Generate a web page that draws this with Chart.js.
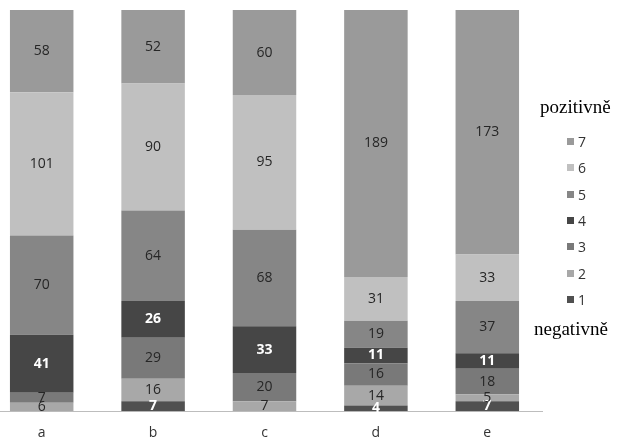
<!DOCTYPE html>
<html>
<head>
<meta charset="utf-8">
<script src="https://cdn.jsdelivr.net/npm/chart.js@4.4.1/dist/chart.umd.min.js"></script>
<style>
    body { margin: 0; background: #fff; width: 629px; height: 443px; overflow: hidden; position: relative; }
    #chartBox { position: absolute; left: -14px; top: 0; width: 557px; height: 457px; }
    .legend-title { position: absolute; font-family: "Liberation Serif", serif; font-size: 19px; color: #000; }
    .legend-item { position: absolute; left: 567px; display: flex; align-items: center; font-family: "Open Sans", sans-serif; font-size: 14px; color: #333; }
    .legend-color { width: 7px; height: 7px; margin-right: 4px; }
</style>
</head>
<body>
<div id="chartBox"><canvas id="stackChart"></canvas></div>
<div class="legend-title" style="left:540px; top:96px;">pozitivně</div>
<div class="legend-title" style="left:534px; top:318px;">negativně</div>
<div id="chartLegend"></div>
<script>
const categories = ['a', 'b', 'c', 'd', 'e'];
const seriesNames = ['1', '2', '3', '4', '5', '6', '7'];
const s1 = [0, 7, 0, 4, 7];
const s2 = [6, 16, 7, 14, 5];
const s3 = [7, 29, 20, 16, 18];
const s4 = [41, 26, 33, 11, 11];
const s5 = [70, 64, 68, 19, 37];
const s6 = [101, 90, 95, 31, 33];
const s7 = [58, 52, 60, 189, 173];
const seriesColors = ['#505050', '#a8a8a8', '#797979', '#464646', '#868686', '#c0c0c0', '#9a9a9a'];
const labelColors = ['#ffffff', '#262626', '#262626', '#ffffff', '#262626', '#262626', '#262626'];

document.addEventListener('DOMContentLoaded', function () {
    const ctx = document.getElementById('stackChart');
    const chartLegend = document.getElementById('chartLegend');
    const counts = [s1, s2, s3, s4, s5, s6, s7];

    const totals = categories.map((c, i) => counts.reduce((sum, s) => sum + s[i], 0));

    // percent stacks, raw counts kept for the labels
    const datasets = counts.map((values, k) => ({
        label: seriesNames[k],
        data: values.map((v, i) => v / totals[i] * 100),
        raw: values,
        backgroundColor: seriesColors[k],
        borderWidth: 0,
        barPercentage: 1,
        categoryPercentage: 0.57
    }));

    const segmentLabels = {
        id: 'segmentLabels',
        afterDatasetsDraw(chart) {
            const c = chart.ctx;
            c.save();
            c.textAlign = 'center';
            c.textBaseline = 'middle';
            chart.data.datasets.forEach((ds, k) => {
                const meta = chart.getDatasetMeta(k);
                meta.data.forEach((bar, i) => {
                    const v = ds.raw[i];
                    if (!v) return;
                    const white = labelColors[k] === '#ffffff';
                    c.font = (white ? 'bold ' : '') + '14px "Open Sans", sans-serif';
                    c.fillStyle = labelColors[k];
                    c.fillText(String(v), bar.x, (bar.y + bar.base) / 2);
                });
            });
            c.restore();
        }
    };

    new Chart(ctx, {
        type: 'bar',
        data: { labels: categories, datasets: datasets },
        options: {
            responsive: true,
            maintainAspectRatio: false,
            animation: false,
            layout: { padding: { top: 10, right: 0, left: 0, bottom: 3 } },
            plugins: {
                legend: { display: false },
                tooltip: { enabled: false }
            },
            scales: {
                x: {
                    stacked: true,
                    grid: { display: false, drawTicks: false },
                    border: { display: true, color: '#bdbdbd', width: 1 },
                    ticks: { color: '#333', padding: 13, font: { family: '"Open Sans", sans-serif', size: 14 } }
                },
                y: {
                    stacked: true,
                    display: false,
                    min: 0,
                    max: 100
                }
            }
        },
        plugins: [segmentLabels]
    });

    // legend, top to bottom 7..1
    const legendTops = 142;
    for (let k = seriesNames.length - 1, row = 0; k >= 0; k--, row++) {
        const item = document.createElement('div');
        item.className = 'legend-item';
        item.style.top = (legendTops - 10 + row * 26.3) + 'px';
        item.innerHTML = `<div class="legend-color" style="background-color: ${seriesColors[k]};"></div><span>${seriesNames[k]}</span>`;
        chartLegend.appendChild(item);
    }
});
</script>
</body>
</html>
